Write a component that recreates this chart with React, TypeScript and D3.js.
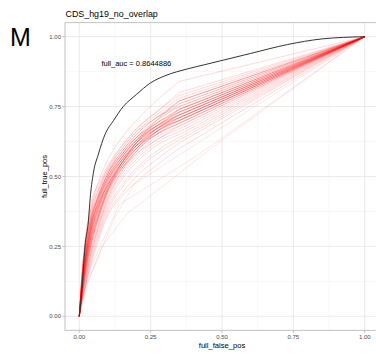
import React from "react";
import * as d3 from "d3";

const TITLE = "CDS_hg19_no_overlap";
const PANEL_TAG = "M";
const AUC_LABEL = "full_auc = 0.8644886";
const X_LABEL = "full_false_pos";
const Y_LABEL = "full_true_pos";
const TICKS = [0, 0.25, 0.5, 0.75, 1];
const TICK_LABELS = ["0.00", "0.25", "0.50", "0.75", "1.00"];
const MINOR = [0.125, 0.375, 0.625, 0.875];

// full ROC curve (black)
const fullFpr = [0, 0.008, 0.02, 0.032, 0.038, 0.049, 0.067, 0.09, 0.12, 0.154, 0.2, 0.25, 0.3, 0.38, 0.44, 0.5, 0.6, 0.73, 0.85, 1];
const fullTpr = [0, 0.08, 0.25, 0.34, 0.42, 0.51, 0.58, 0.65, 0.70, 0.75, 0.793, 0.835, 0.86, 0.885, 0.90, 0.915, 0.94, 0.972, 0.992, 1];

// subsample ROC curves (red), tpr values on a shared fpr grid
const subFpr = [0, 0.01, 0.02, 0.04, 0.07, 0.1, 0.15, 0.2, 0.27, 0.35, 1];
const subTpr = [
  [0, .17, .27, .40, .48, .54, .61, .67, .73, .80, 1],
  [0, .16, .26, .38, .47, .53, .60, .66, .72, .78, 1],
  [0, .15, .25, .37, .46, .53, .61, .67, .73, .79, 1],
  [0, .14, .24, .36, .46, .52, .59, .65, .71, .77, 1],
  [0, .14, .22, .35, .45, .52, .60, .66, .71, .76, 1],
  [0, .13, .22, .34, .44, .51, .59, .65, .71, .75, 1],
  [0, .13, .21, .33, .44, .51, .58, .64, .70, .75, 1],
  [0, .12, .21, .33, .43, .50, .58, .64, .69, .74, 1],
  [0, .12, .20, .32, .42, .50, .58, .64, .69, .74, 1],
  [0, .12, .20, .31, .42, .49, .57, .63, .69, .73, 1],
  [0, .11, .19, .31, .41, .49, .57, .63, .68, .73, 1],
  [0, .11, .19, .30, .41, .48, .56, .62, .68, .72, 1],
  [0, .11, .18, .30, .40, .48, .56, .62, .67, .72, 1],
  [0, .10, .18, .29, .40, .47, .56, .61, .67, .71, 1],
  [0, .10, .18, .29, .39, .47, .55, .61, .66, .71, 1],
  [0, .10, .17, .28, .39, .46, .55, .60, .66, .70, 1],
  [0, .09, .17, .28, .38, .46, .54, .60, .66, .70, 1],
  [0, .09, .16, .27, .38, .45, .54, .60, .65, .69, 1],
  [0, .09, .16, .27, .37, .45, .53, .59, .65, .69, 1],
  [0, .08, .15, .26, .36, .44, .53, .58, .64, .68, 1],
  [0, .08, .15, .25, .35, .43, .52, .58, .63, .68, 1],
  [0, .08, .14, .24, .34, .42, .51, .57, .63, .67, 1],
  [0, .07, .13, .23, .33, .41, .50, .56, .62, .66, 1],
  [0, .07, .12, .22, .32, .40, .49, .55, .61, .65, 1],
  [0, .07, .12, .21, .31, .39, .47, .53, .59, .64, 1],
  [0, .06, .11, .20, .30, .38, .46, .52, .58, .63, 1],
  [0, .06, .10, .19, .29, .37, .44, .50, .56, .62, 1],
  [0, .06, .10, .18, .28, .36, .43, .48, .54, .60, 1],
  [0, .14, .23, .33, .41, .47, .55, .62, .69, .76, 1],
  [0, .09, .18, .31, .43, .51, .59, .64, .68, .71, 1],
  [0, .12, .19, .28, .37, .45, .55, .62, .70, .77, 1],
  [0, .10, .19, .32, .42, .49, .56, .61, .65, .69, 1],
  [0, .13, .20, .30, .39, .46, .53, .59, .66, .73, 1],
  [0, .08, .16, .29, .40, .48, .57, .63, .68, .72, 1],
  [0, .11, .17, .26, .36, .44, .53, .60, .67, .74, 1],
  [0, .10, .20, .33, .44, .51, .58, .63, .67, .70, 1],
  [0, .12, .21, .32, .41, .47, .54, .60, .66, .71, 1],
  [0, .09, .15, .25, .36, .45, .55, .62, .68, .73, 1],
  [0, .15, .24, .35, .43, .50, .57, .63, .70, .77, 1],
  [0, .07, .14, .25, .37, .46, .55, .61, .66, .70, 1],
  [0, .11, .20, .31, .40, .47, .55, .61, .67, .72, 1],
  [0, .10, .17, .27, .37, .45, .54, .61, .67, .72, 1],
  [0, .13, .23, .35, .44, .50, .57, .62, .67, .71, 1],
  [0, .08, .13, .22, .33, .42, .52, .59, .65, .70, 1],
  [0, .12, .22, .34, .43, .49, .56, .62, .68, .74, 1],
  [0, .15, .25, .38, .49, .56, .64, .70, .77, .84, 1],
];

// outlying subsample curves
const outA_fpr = [0, 0.03, 0.12, 0.19, 0.43, 1];
const outA_tpr = [0, 0.12, 0.344, 0.47, 0.63, 1];
const outB_fpr = [0, 0.02, 0.08, 0.17, 0.21, 0.5, 1];
const outB_tpr = [0, 0.10, 0.25, 0.37, 0.40, 0.63, 1];
const outC_fpr = [0, 0.03, 0.14, 0.25, 0.42, 1];
const outC_tpr = [0, 0.15, 0.40, 0.47, 0.58, 1];

const W = 376;
const H = 354;
const FONT = "'Liberation Sans', Arial, Helvetica, sans-serif";

export default function App() {
  const x = d3.scaleLinear().domain([-0.05, 1.05]).range([65, 379]);
  const y = d3.scaleLinear().domain([-0.05, 1.05]).range([330.3, 22.7]);

  const smooth = d3
    .line<[number, number]>()
    .x((d) => x(d[0]))
    .y((d) => y(d[1]))
    .curve(d3.curveMonotoneX);

  const straight = d3
    .line<[number, number]>()
    .x((d) => x(d[0]))
    .y((d) => y(d[1]));

  const zip = (a: number[], b: number[]) => a.map((v, i) => [v, b[i]] as [number, number]);

  // smooth body, straight final segment to (1,1)
  const rocPath = (pts: [number, number][]) => {
    const body = smooth(pts.slice(0, -1)) || "";
    const last = pts[pts.length - 1];
    return body + `L${x(last[0])},${y(last[1])}`;
  };

  const redCurves = subTpr.map((t) => zip(subFpr, t));
  const outliers = [zip(outA_fpr, outA_tpr), zip(outB_fpr, outB_tpr), zip(outC_fpr, outC_tpr)];
  const full = zip(fullFpr, fullTpr);

  const [x0, x1] = x.range();
  const [y0, y1] = y.range();

  return (
    <svg
      width={W}
      height={H}
      style={{ position: "absolute", left: 0, top: 0, background: "#fff" }}
      fontFamily={FONT}
    >
      <rect x={0} y={0} width={W} height={H} fill="#fff" />
      <text x={10} y={45.7} fontSize={25} fill="#000">
        {PANEL_TAG}
      </text>
      <text x={65.5} y={17} fontSize={8.9} fill="#000">
        {TITLE}
      </text>

      {/* grid */}
      {MINOR.map((v) => (
        <g key={"mn" + v}>
          <line x1={x(v)} x2={x(v)} y1={y1} y2={y0} stroke="#f1f1f1" strokeWidth={0.6} />
          <line x1={x0} x2={x1} y1={y(v)} y2={y(v)} stroke="#f1f1f1" strokeWidth={0.6} />
        </g>
      ))}
      {TICKS.map((v) => (
        <g key={"mj" + v}>
          <line x1={x(v)} x2={x(v)} y1={y1} y2={y0} stroke="#e6e6e6" strokeWidth={0.8} />
          <line x1={x0} x2={x1} y1={y(v)} y2={y(v)} stroke="#e6e6e6" strokeWidth={0.8} />
        </g>
      ))}

      {/* red subsample curves */}
      {redCurves.map((c, i) => (
        <path
          key={"r" + i}
          d={rocPath(c)}
          fill="none"
          stroke="#ff0000"
          strokeOpacity={0.17}
          strokeWidth={0.9}
        />
      ))}
      {outliers.map((c, i) => (
        <path
          key={"o" + i}
          d={straight(c) || ""}
          fill="none"
          stroke="#ff0000"
          strokeOpacity={0.12}
          strokeWidth={0.9}
        />
      ))}

      {/* full curve */}
      <path d={smooth(full) || ""} fill="none" stroke="#333333" strokeWidth={1} />

      <text x={x(0.2)} y={66} fontSize={7.5} textAnchor="middle" fill="#000">
        {AUC_LABEL}
      </text>

      {/* panel border */}
      <rect x={x0} y={y1} width={x1 - x0} height={y0 - y1} fill="none" stroke="#b3b3b3" strokeWidth={0.8} />

      {/* axes ticks */}
      {TICKS.map((v, i) => (
        <g key={"t" + v}>
          <line x1={x0 - 2.5} x2={x0} y1={y(v)} y2={y(v)} stroke="#b3b3b3" strokeWidth={0.8} />
          <text x={x0 - 4} y={y(v) + 2.1} fontSize={6} textAnchor="end" fill="#4d4d4d">
            {TICK_LABELS[i]}
          </text>
          <line x1={x(v)} x2={x(v)} y1={y0} y2={y0 + 2.5} stroke="#b3b3b3" strokeWidth={0.8} />
          <text x={x(v)} y={y0 + 8.5} fontSize={6} textAnchor="middle" fill="#4d4d4d">
            {TICK_LABELS[i]}
          </text>
        </g>
      ))}

      <text x={(x(0) + x(1)) / 2} y={347.5} fontSize={7.6} textAnchor="middle" fill="#000">
        {X_LABEL}
      </text>
      <text
        transform={`translate(47,${(y(0) + y(1)) / 2}) rotate(-90)`}
        fontSize={7.5}
        textAnchor="middle"
        fill="#000"
      >
        {Y_LABEL}
      </text>
    </svg>
  );
}
